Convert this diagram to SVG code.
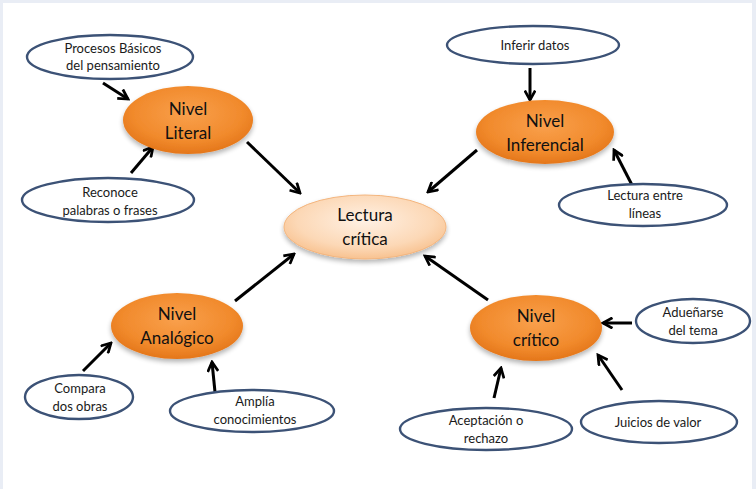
<svg xmlns="http://www.w3.org/2000/svg" width="756" height="489" viewBox="0 0 756 489">
<defs>
<radialGradient id="og" cx="50%" cy="40%" r="60%">
<stop offset="0" stop-color="#f9a04c"/>
<stop offset="0.7" stop-color="#f18a2c"/>
<stop offset="1" stop-color="#e4761a"/>
</radialGradient>
<radialGradient id="pg" cx="50%" cy="40%" r="60%">
<stop offset="0" stop-color="#fff1e4"/>
<stop offset="0.7" stop-color="#fcd8b6"/>
<stop offset="1" stop-color="#f8c290"/>
</radialGradient>
<filter id="sh" x="-20%" y="-20%" width="140%" height="150%">
<feGaussianBlur in="SourceAlpha" stdDeviation="2.5"/>
<feOffset dy="3"/>
<feComponentTransfer><feFuncA type="linear" slope="0.3"/></feComponentTransfer>
<feMerge><feMergeNode/><feMergeNode in="SourceGraphic"/></feMerge>
</filter>
<marker id="ah" viewBox="0 0 12 12" refX="10" refY="6" markerWidth="4.2" markerHeight="4.2" orient="auto" markerUnits="strokeWidth">
<path d="M1,1 L10,6 L1,11" fill="none" stroke="#000" stroke-width="2.6"/>
</marker>
</defs>
<style>
.lvl{fill:url(#og);filter:url(#sh)}
.ctr{fill:url(#pg);stroke:#f3b57e;stroke-width:1;filter:url(#sh)}
.wh{fill:#fff;stroke:#3c5276;stroke-width:2.4}
.tl{font-family:Lato,"Open Sans",sans-serif;font-size:17px;fill:#111;text-anchor:middle}
.ts{font-family:Lato,"Open Sans",sans-serif;font-size:13px;fill:#1a1a1a;text-anchor:middle}
.ar{stroke:#000;stroke-width:3;fill:none;marker-end:url(#ah)}
</style>
<rect x="0" y="0" width="756" height="489" fill="#e9edf5"/>
<rect x="3" y="3" width="749" height="486" fill="#fff"/>

<g id="connectors">
<line class="ar" x1="103" y1="83" x2="128" y2="99"/>
<line class="ar" x1="131" y1="173" x2="153" y2="147"/>
<line class="ar" x1="247" y1="142" x2="300" y2="193"/>
<line class="ar" x1="530" y1="68" x2="530" y2="100"/>
<line class="ar" x1="632" y1="185" x2="614" y2="150"/>
<line class="ar" x1="477" y1="150" x2="428" y2="192"/>
<line class="ar" x1="235" y1="301" x2="294" y2="254"/>
<line class="ar" x1="488" y1="300" x2="425" y2="256"/>
<line class="ar" x1="83" y1="371" x2="111" y2="343"/>
<line class="ar" x1="215" y1="392" x2="212" y2="362"/>
<line class="ar" x1="632" y1="323" x2="603" y2="323"/>
<line class="ar" x1="622" y1="390" x2="598" y2="355"/>
<line class="ar" x1="494" y1="398" x2="501" y2="368"/>
</g>

<g id="lectura">
<ellipse class="ctr" cx="365" cy="227" rx="81" ry="32"/>
<text class="tl" x="365" y="221">Lectura</text>
<text class="tl" x="365" y="245">crítica</text>
</g>
<g id="literal">
<ellipse class="lvl" cx="188" cy="120" rx="65" ry="34"/>
<text class="tl" x="188" y="115">Nivel</text>
<text class="tl" x="188" y="139">Literal</text>
</g>
<g id="inferencial">
<ellipse class="lvl" cx="545" cy="132" rx="69" ry="32"/>
<text class="tl" x="545" y="127">Nivel</text>
<text class="tl" x="545" y="151">Inferencial</text>
</g>
<g id="analogico">
<ellipse class="lvl" cx="177" cy="326" rx="66" ry="33"/>
<text class="tl" x="177" y="320">Nivel</text>
<text class="tl" x="177" y="344">Analógico</text>
</g>
<g id="critico">
<ellipse class="lvl" cx="536" cy="328" rx="66" ry="33"/>
<text class="tl" x="536" y="322">Nivel</text>
<text class="tl" x="536" y="346">crítico</text>
</g>

<g id="procesos">
<ellipse class="wh" cx="110" cy="57" rx="83" ry="22"/>
<text class="ts" x="113" y="53">Procesos Básicos</text>
<text class="ts" x="113" y="70">del pensamiento</text>
</g>
<g id="reconoce">
<ellipse class="wh" cx="108" cy="200" rx="86" ry="22"/>
<text class="ts" x="110" y="197">Reconoce</text>
<text class="ts" x="110" y="215">palabras o frases</text>
</g>
<g id="inferir">
<ellipse class="wh" cx="533" cy="45" rx="86" ry="19"/>
<text class="ts" x="535" y="50">Inferir datos</text>
</g>
<g id="entrelineas">
<ellipse class="wh" cx="643" cy="205" rx="84" ry="21"/>
<text class="ts" x="645" y="200">Lectura entre</text>
<text class="ts" x="645" y="218">líneas</text>
</g>
<g id="compara">
<ellipse class="wh" cx="79" cy="397" rx="54" ry="22"/>
<text class="ts" x="80" y="393">Compara</text>
<text class="ts" x="80" y="411">dos obras</text>
</g>
<g id="amplia">
<ellipse class="wh" cx="252" cy="411" rx="82" ry="21"/>
<text class="ts" x="255" y="406">Amplía</text>
<text class="ts" x="255" y="424">conocimientos</text>
</g>
<g id="aceptacion">
<ellipse class="wh" cx="486" cy="429" rx="86" ry="21"/>
<text class="ts" x="486" y="425">Aceptación o</text>
<text class="ts" x="486" y="443">rechazo</text>
</g>
<g id="juicios">
<ellipse class="wh" cx="659" cy="422" rx="78" ry="21"/>
<text class="ts" x="658" y="427">Juicios de valor</text>
</g>
<g id="aduenarse">
<ellipse class="wh" cx="693" cy="321" rx="57" ry="22"/>
<text class="ts" x="693" y="317">Adueñarse</text>
<text class="ts" x="693" y="335">del tema</text>
</g>
</svg>
